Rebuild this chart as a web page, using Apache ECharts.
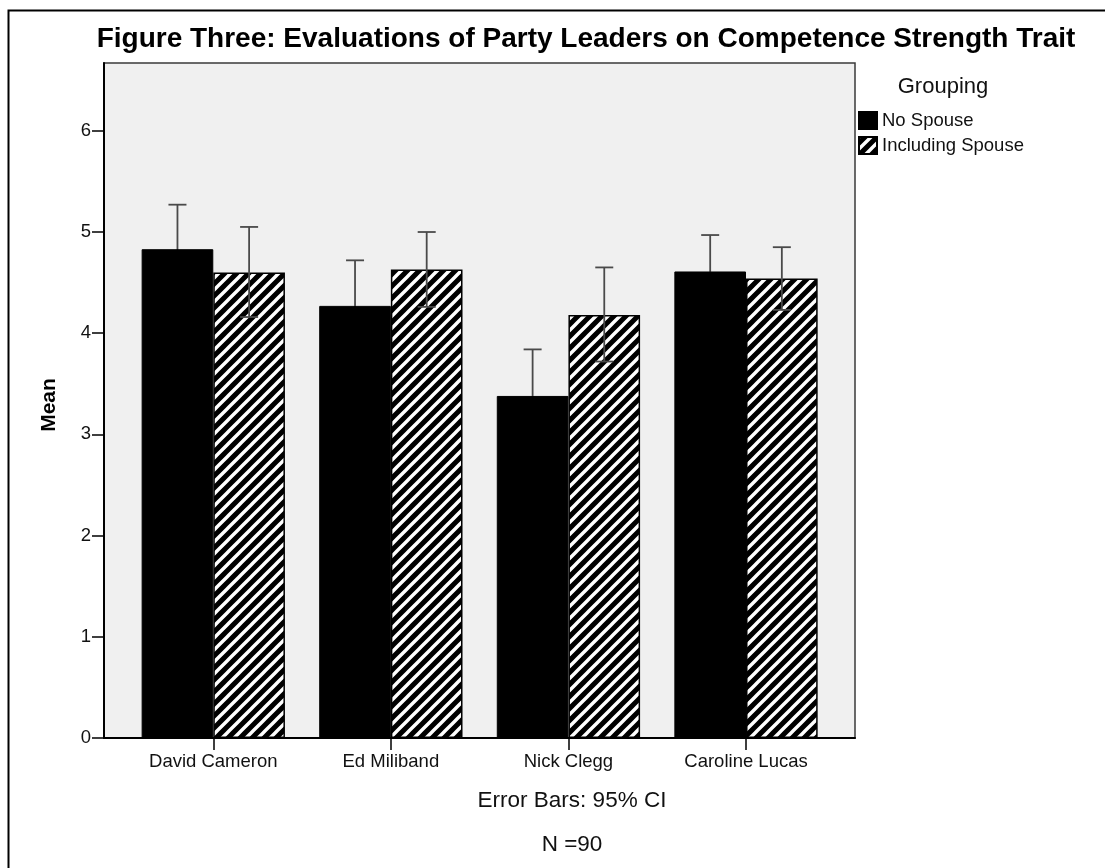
<!DOCTYPE html>
<html>
<head>
<meta charset="utf-8">
<title>Evaluations of Party Leaders on Competence Strength Trait</title>
<script src="https://cdn.jsdelivr.net/npm/echarts@6/dist/echarts.min.js"></script>
<style>
  html, body { margin: 0; padding: 0; background: #ffffff; }
  #chart { width: 1105px; height: 868px; }
</style>
</head>
<body>
<div id="chart"></div>
<script>
// Leaders and grouping
const categories = ['David Cameron', 'Ed Miliband', 'Nick Clegg', 'Caroline Lucas'];
const groups = ['No Spouse', 'Including Spouse'];

// Group means
const meanNoSpouse = [4.83, 4.27, 3.38, 4.61];
const meanWithSpouse = [4.60, 4.63, 4.18, 4.54];

// 95% confidence interval bounds
const lowerNoSpouse = [4.39, 3.82, 2.92, 4.25];
const upperNoSpouse = [5.27, 4.72, 3.84, 4.97];
const lowerWithSpouse = [4.16, 4.26, 3.72, 4.23];
const upperWithSpouse = [5.05, 5.00, 4.65, 4.85];

// Value axis
const yTicks = [0, 1, 2, 3, 4, 5, 6];
const yMax = 6.67;

const FONT = '"Liberation Sans", Arial, sans-serif';
const BAR_CATEGORY_GAP = 0.193;

// Diagonal white-on-black hatch tile
function makeHatch() {
  const p = 12;
  const c = document.createElement('canvas');
  c.width = p; c.height = p;
  const ctx = c.getContext('2d');
  ctx.fillStyle = '#000000';
  ctx.fillRect(0, 0, p, p);
  ctx.strokeStyle = '#ffffff';
  ctx.lineWidth = 3.4;
  ctx.beginPath();
  ctx.moveTo(-3, p + 3); ctx.lineTo(p + 3, -3);
  ctx.moveTo(-3, 3); ctx.lineTo(3, -3);
  ctx.moveTo(p - 3, p + 3); ctx.lineTo(p + 3, p - 3);
  ctx.stroke();
  return c;
}
const hatch = { image: makeHatch(), repeat: 'repeat' };

// Error bar items: [categoryIndex, low, high, groupIndex, mean]
const errData = [];
categories.forEach((_, i) => {
  errData.push([i, lowerNoSpouse[i], upperNoSpouse[i], 0, meanNoSpouse[i]]);
  errData.push([i, lowerWithSpouse[i], upperWithSpouse[i], 1, meanWithSpouse[i]]);
});

function renderErrorBar(params, api) {
  const idx = api.value(0);
  const lo = api.value(1);
  const hi = api.value(2);
  const g = api.value(3);
  const mean = api.value(4);
  const band = api.size([1, 0])[0];
  const barW = band * (1 - BAR_CATEGORY_GAP) / 2;
  const off = g === 0 ? -barW / 2 : barW / 2;
  const pHi = api.coord([idx, hi]);
  const pLo = api.coord([idx, lo]);
  const pMean = api.coord([idx, mean]);
  const x = pHi[0] + off;
  const cap = 9;
  const grey = { stroke: '#4a4a4a', lineWidth: 1.8 };
  // the part inside a solid black bar blends into it
  const inner = g === 0 ? { stroke: '#000000', lineWidth: 1.8 } : grey;
  return {
    type: 'group',
    children: [
      { type: 'line', shape: { x1: x, y1: pHi[1], x2: x, y2: pMean[1] }, style: grey },
      { type: 'line', shape: { x1: x - cap, y1: pHi[1], x2: x + cap, y2: pHi[1] }, style: grey },
      { type: 'line', shape: { x1: x, y1: pMean[1], x2: x, y2: pLo[1] }, style: inner },
      { type: 'line', shape: { x1: x - cap, y1: pLo[1], x2: x + cap, y2: pLo[1] }, style: inner }
    ]
  };
}

const chart = echarts.init(document.getElementById('chart'), null, { renderer: 'canvas' });

const option = {
  backgroundColor: '#ffffff',
  animation: false,
  textStyle: { fontFamily: FONT },
  grid: [
    // plot frame carrying the value axis
    { left: 104, top: 63, width: 751, height: 675, show: true,
      backgroundColor: '#f0f0f0', borderColor: '#3a3a3a', borderWidth: 1.5,
      outerBoundsMode: 'none', containLabel: false },
    // bar area
    { left: 124.5, top: 63, width: 710.3, height: 675,
      outerBoundsMode: 'none', containLabel: false }
  ],
  xAxis: [
    { gridIndex: 0, type: 'value', min: 0, max: 1,
      axisLine: { show: true, onZero: false, lineStyle: { color: '#000000', width: 2 } },
      axisTick: { show: false }, axisLabel: { show: false }, splitLine: { show: false } },
    { gridIndex: 1, type: 'category', data: categories, boundaryGap: true,
      axisLine: { show: false },
      axisTick: { show: true, alignWithLabel: true, length: 12, lineStyle: { color: '#000000', width: 1.5 } },
      axisLabel: { color: '#111111', fontSize: 18.5, fontFamily: FONT, margin: 14.5 },
      splitLine: { show: false } }
  ],
  yAxis: [
    { gridIndex: 0, type: 'value', min: 0, max: yMax, interval: 1,
      axisLine: { show: true, lineStyle: { color: '#000000', width: 2 } },
      axisTick: { show: true, length: 12, customValues: yTicks, lineStyle: { color: '#000000', width: 1.5 } },
      axisLabel: { customValues: yTicks, color: '#111111', fontSize: 18.5, fontFamily: FONT, margin: 13 },
      splitLine: { show: false } },
    { gridIndex: 1, type: 'value', min: 0, max: yMax, show: false, splitLine: { show: false } }
  ],
  legend: {
    orient: 'vertical', left: 853, top: 106,
    itemWidth: 18, itemHeight: 17, itemGap: 6,
    icon: 'rect',
    data: groups,
    textStyle: { fontSize: 18.5, color: '#111111', fontFamily: FONT },
    selectedMode: false
  },
  series: [
    { name: groups[0], type: 'bar', xAxisIndex: 1, yAxisIndex: 1, data: meanNoSpouse,
      barGap: '0%', barCategoryGap: (BAR_CATEGORY_GAP * 100) + '%',
      itemStyle: { color: '#000000', borderColor: '#000000', borderWidth: 1 } },
    { name: groups[1], type: 'bar', xAxisIndex: 1, yAxisIndex: 1, data: meanWithSpouse,
      barGap: '0%', barCategoryGap: (BAR_CATEGORY_GAP * 100) + '%',
      itemStyle: { color: hatch, borderColor: '#000000', borderWidth: 1.5 } },
    { name: 'CI', type: 'custom', xAxisIndex: 1, yAxisIndex: 1, data: errData,
      renderItem: renderErrorBar, z: 5, silent: true,
      encode: { x: 0, y: [1, 2] } }
  ],
  graphic: [
    { type: 'polyline', silent: true, z: 100,
      shape: { points: [[8.5, 868], [8.5, 10.5], [1105, 10.5]] },
      style: { stroke: '#000000', lineWidth: 2, fill: null } },
    { type: 'text', silent: true, x: 586, y: 39,
      style: { text: 'Figure Three: Evaluations of Party Leaders on Competence Strength Trait',
        font: 'bold 28px ' + FONT, fill: '#000000', align: 'center', verticalAlign: 'middle' } },
    { type: 'text', silent: true, x: 49, y: 405, rotation: Math.PI / 2,
      style: { text: 'Mean', font: 'bold 21px ' + FONT, fill: '#000000', align: 'center', verticalAlign: 'middle' } },
    { type: 'text', silent: true, x: 943, y: 87,
      style: { text: 'Grouping', font: '22px ' + FONT, fill: '#111111', align: 'center', verticalAlign: 'middle' } },
    { type: 'text', silent: true, x: 572, y: 800.5,
      style: { text: 'Error Bars: 95% CI', font: '22.5px ' + FONT, fill: '#111111', align: 'center', verticalAlign: 'middle' } },
    { type: 'text', silent: true, x: 572, y: 845,
      style: { text: 'N =90', font: '22.5px ' + FONT, fill: '#111111', align: 'center', verticalAlign: 'middle' } }
  ]
};

chart.setOption(option);
</script>
</body>
</html>
